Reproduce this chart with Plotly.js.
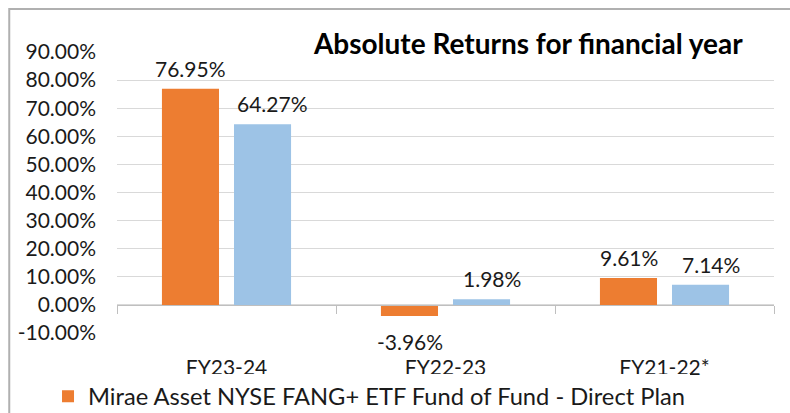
<!DOCTYPE html>
<html>
<head>
<meta charset="utf-8">
<script src="https://cdn.plot.ly/plotly-3.0.1.min.js"></script>
<style>
html,body{margin:0;padding:0;background:#fff;}
#chart{width:790px;height:413px;}
</style>
</head>
<body>
<div id="chart"></div>
<script>
var categories = ["FY23-24", "FY22-23", "FY21-22*"];
var fundName = "Mirae Asset NYSE FANG+ ETF Fund of Fund - Direct Plan";
var fundReturns = [76.95, -3.96, 9.61];
var benchName = "Benchmark";
var benchReturns = [64.27, 1.98, 7.14];
var yTicks = [-10, 0, 10, 20, 30, 40, 50, 60, 70, 80, 90];
var yTickText = yTicks.map(function (v) { return v.toFixed(2) + "%"; });

var FONT = "Lato, 'Noto Sans', sans-serif";
var textCol = "#1a1a1a";

var traces = [
  {
    type: "bar", name: fundName, x: categories, y: fundReturns,
    marker: {color: "#ED7D31"},
    hoverinfo: "skip"
  },
  {
    type: "bar", name: benchName, x: categories, y: benchReturns,
    marker: {color: "#9DC3E6"},
    showlegend: false,
    hoverinfo: "skip"
  }
];

// data labels positioned at each bar's value through the axes
function labelsFor(values, xshift) {
  return values.map(function (v, i) {
    var neg = v < 0;
    return {
      xref: "x", yref: "y", x: categories[i], y: v,
      text: v.toFixed(2) + "%", showarrow: false,
      xshift: xshift, yshift: neg ? -11 : 6,
      yanchor: neg ? "top" : "bottom", xanchor: "center",
      font: {family: FONT, size: 21, color: textCol}
    };
  });
}
var annotations = labelsFor(fundReturns, -36).concat(labelsFor(benchReturns, 46));

var layout = {
  width: 790, height: 413,
  margin: {l: 117, r: 16, t: 52, b: 80, autoexpand: false},
  paper_bgcolor: "#ffffff", plot_bgcolor: "#ffffff",
  font: {family: FONT, size: 21, color: textCol},
  barmode: "group", bargap: 0.342, bargroupgap: 0.208,
  title: {
    text: "<b>Absolute Returns for financial year</b>",
    font: {family: FONT, size: 28, color: "#000000"},
    xref: "paper", x: 0.626, xanchor: "center",
    yref: "container", y: 0.893, yanchor: "middle"
  },
  xaxis: {
    type: "category",
    anchor: "free", position: 0.1,
    showline: true, linecolor: "#BFBFBF", linewidth: 1,
    ticks: "outside", tickson: "boundaries", ticklen: 8, tickcolor: "#BFBFBF",
    showgrid: false, zeroline: false,
    ticklabelstandoff: 44,
    tickfont: {family: FONT, size: 21, color: textCol},
    fixedrange: true, automargin: false
  },
  yaxis: {
    range: [-10, 90],
    tickmode: "array", tickvals: yTicks, ticktext: yTickText,
    showgrid: true, gridcolor: "#D9D9D9", gridwidth: 1,
    zeroline: false, showline: false, ticks: "",
    ticklabelstandoff: 20,
    tickfont: {family: FONT, size: 21, color: textCol},
    fixedrange: true, automargin: false
  },
  annotations: annotations,
  showlegend: true,
  legend: {
    orientation: "h", x: -0.105, xanchor: "left", y: -0.225, yanchor: "middle",
    font: {family: FONT, size: 23.7, color: textCol},
    itemwidth: 30
  },
  shapes: [
    {type: "rect", xref: "paper", yref: "paper", x0: -0.164, x1: 1.1, y0: -0.5, y1: 1.153,
     line: {color: "#B0B0B0", width: 2}, fillcolor: "rgba(0,0,0,0)", layer: "below"}
  ]
};

Plotly.newPlot("chart", traces, layout, {displayModeBar: false, staticPlot: true});
</script>
</body>
</html>
